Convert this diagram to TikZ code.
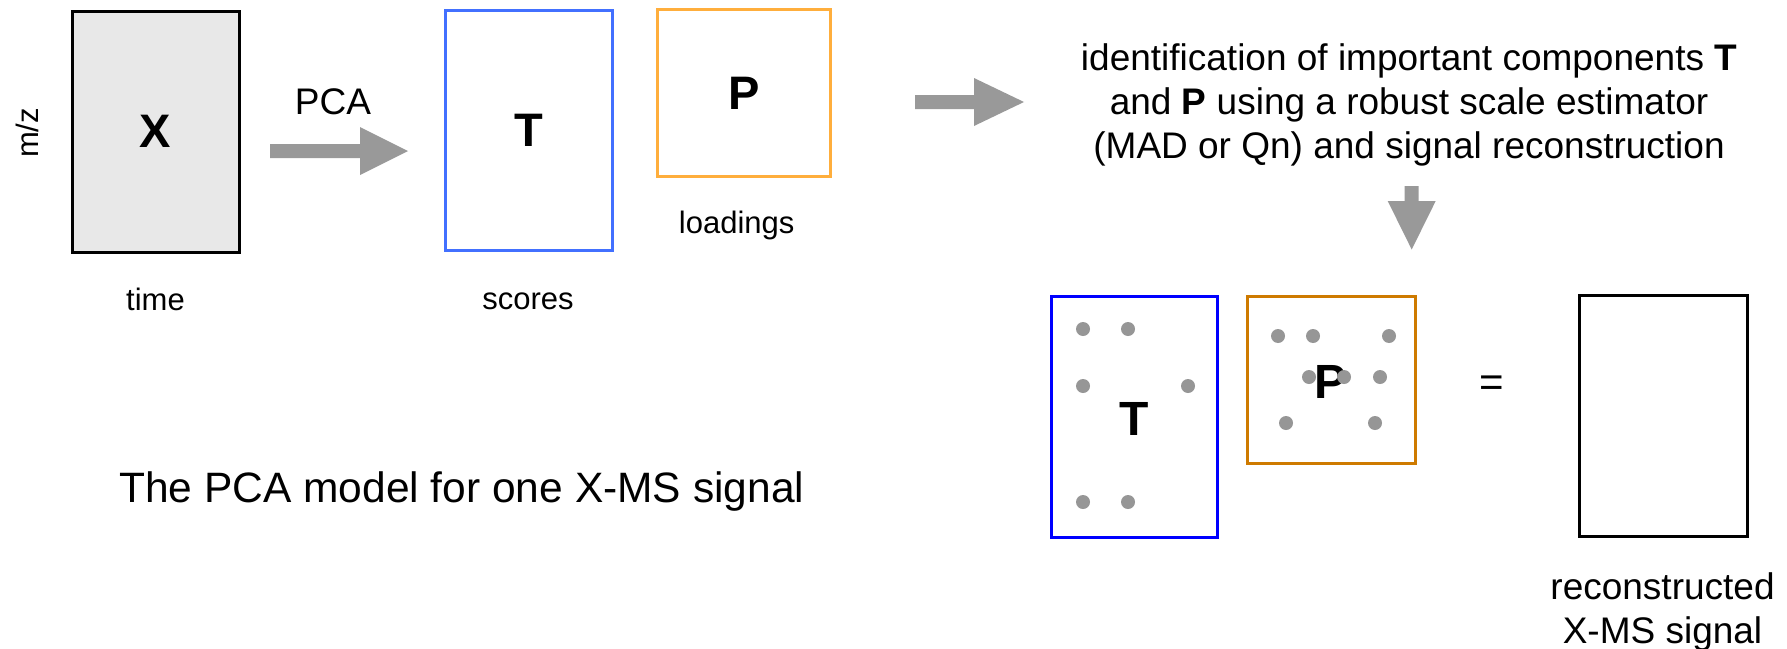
\documentclass[tikz,border=0pt]{standalone}
\usepackage{fontspec}
\setmainfont{Liberation Sans}
\definecolor{xfill}{RGB}{232,232,232}
\definecolor{topblue}{RGB}{66,112,255}
\definecolor{toporange}{RGB}{255,174,60}
\definecolor{botblue}{RGB}{0,0,255}
\definecolor{botorange}{RGB}{206,122,0}
\definecolor{arrowgray}{RGB}{153,153,153}
\definecolor{dotgray}{RGB}{150,150,150}
\tikzset{
  mat/.style={draw, line width=3pt, inner sep=0pt, font=\fontsize{47}{56}\selectfont\bfseries},
  lab/.style={inner sep=0pt, font=\fontsize{31}{37}\selectfont},
  big/.style={inner sep=0pt, align=center, font=\fontsize{37}{44}\selectfont},
  blk/.style={fill=arrowgray, draw=none},
  dot/.style={fill=dotgray}
}
\begin{document}
\begin{tikzpicture}[x=1pt,y=-1pt]
\useasboundingbox (0,0) rectangle (1787,648);
% top row
\node[mat, fill=xfill, minimum width=167pt, minimum height=241pt] (X) at (155.5,131.5) {X};
\node[lab, rotate=90] (mz) at (27,133) {m/z};
\node[lab, anchor=base] (time) at (155.5,310) {time};
\node[big, anchor=base] (pca) at (333,114) {PCA};
\node[mat, draw=topblue, minimum width=167pt, minimum height=240pt] (T1) at (528.5,130.5) {T};
\node[lab, anchor=base] (scores) at (528,309) {scores};
\node[mat, draw=toporange, minimum width=173pt, minimum height=167pt] (P1) at (744.2,93.3) {P};
\node[lab, anchor=base] (load) at (736.7,233) {loadings};
\node[big] (desc) at (1409,105) {identification of important components \textbf{T}\\and \textbf{P} using a robust scale estimator\\(MAD or Qn) and signal reconstruction};
% arrows
\coordinate (a1) at (270,151);
\fill[blk] (a1) ++(0,-7) -- ++(90,0) -- ++(0,-17) -- ++(48,24) -- ++(-48,24) -- ++(0,-17) -- ++(-90,0) -- cycle;
\coordinate (a2) at (915,102);
\fill[blk] (a2) ++(0,-7) -- ++(59,0) -- ++(0,-17) -- ++(50,24) -- ++(-50,24) -- ++(0,-17) -- ++(-59,0) -- cycle;
\coordinate (a3) at (1411.7,186);
\fill[blk] (a3) ++(-7,0) -- ++(0,15) -- ++(-17,0) -- ++(24,48.5) -- ++(24,-48.5) -- ++(-17,0) -- ++(0,-15) -- cycle;
% caption
\node[inner sep=0pt, anchor=base west, font=\fontsize{42.5}{50}\selectfont] (cap) at (119,502) {The PCA model for one X-MS signal};
% bottom row
\node[mat, draw=botblue, minimum width=166pt, minimum height=241pt] (T2) at (1134,416.5) {};
\node[inner sep=0pt, anchor=base, font=\fontsize{48}{56}\selectfont\bfseries] (T2l) at (1134,435) {T};
\node[mat, draw=botorange, minimum width=168pt, minimum height=167pt] (P2) at (1331.2,379.7) {};
\node[inner sep=0pt, anchor=base, font=\fontsize{48}{56}\selectfont\bfseries] (P2l) at (1330,398) {P};
\foreach \p in {(1083,329),(1128,329),(1083,386),(1188,386),(1083,502),(1128,502)}
  \fill[dot] \p circle (7);
\foreach \p in {(1278,336),(1313,336),(1389,336),(1309,377),(1344,377),(1380,377),(1286,423),(1375,423)}
  \fill[dot] \p circle (7);
\node[inner sep=0pt, font=\fontsize{42}{50}\selectfont] (eq) at (1491.7,386) {=};
\node[mat, draw=black, minimum width=168pt, minimum height=241pt] (R) at (1663.3,416.4) {};
\node[big] (rec) at (1662.5,612) {reconstructed\\X-MS signal};
\end{tikzpicture}
\end{document}
